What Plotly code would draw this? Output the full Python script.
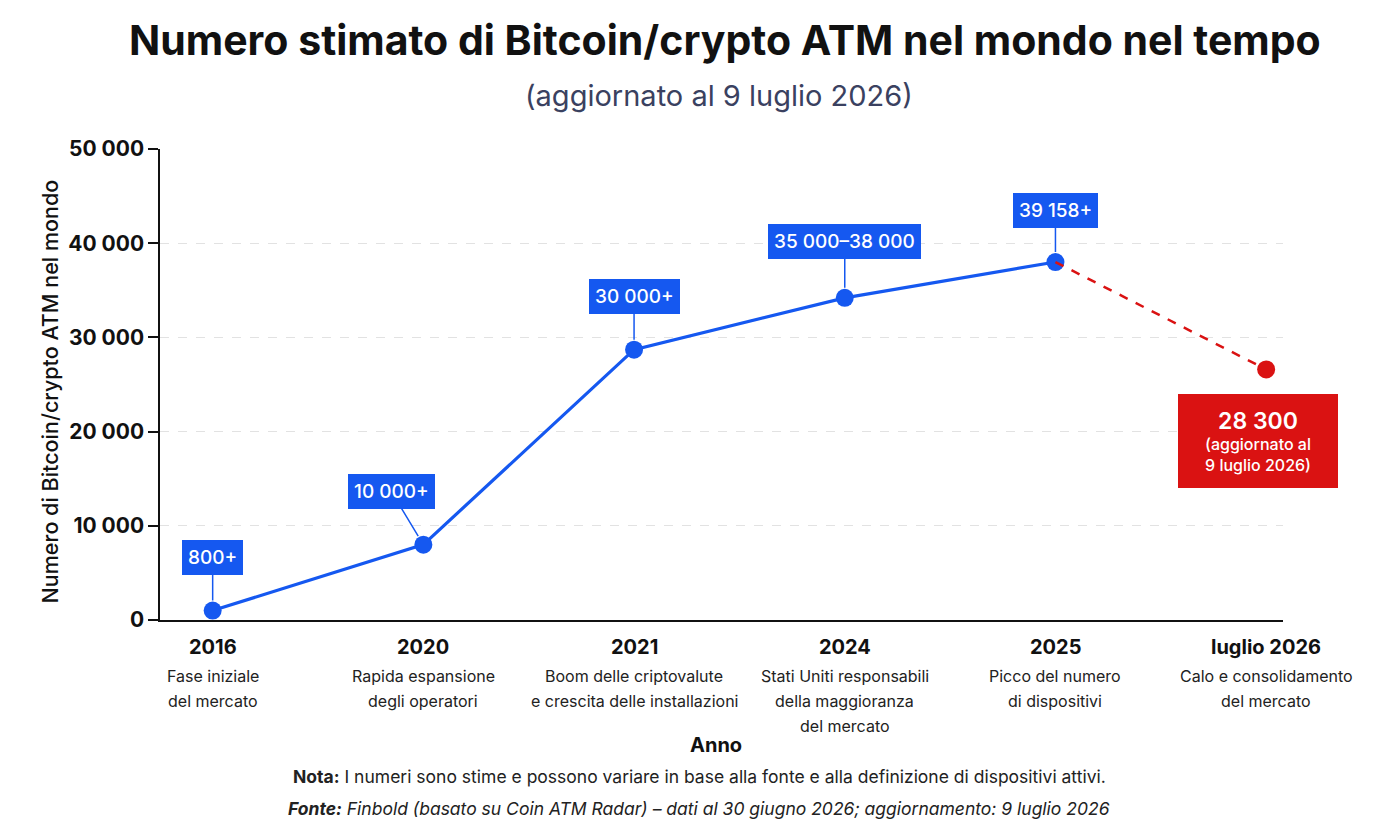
import plotly.graph_objects as go

# ---- data ----
categories = ["2016", "2020", "2021", "2024", "2025", "luglio 2026"]
descriptions = [
    "Fase iniziale<br>del mercato",
    "Rapida espansione<br>degli operatori",
    "Boom delle criptovalute<br>e crescita delle installazioni",
    "Stati Uniti responsabili<br>della maggioranza<br>del mercato",
    "Picco del numero<br>di dispositivi",
    "Calo e consolidamento<br>del mercato",
]
values_blue = [1000, 8000, 28700, 34200, 38000]
values_red = [38000, 26600]
labels_blue = ["800+", "10 000+", "30 000+", "35 000–38 000", "39 158+"]
label_red_main = "28 300"
label_red_sub = "(aggiornato al<br>9 luglio 2026)"
ytick_vals = [0, 10000, 20000, 30000, 40000, 50000]
ytick_text = ["0", "10 000", "20 000", "30 000", "40 000", "50 000"]

title = "Numero stimato di Bitcoin/crypto ATM nel mondo nel tempo"
subtitle = "(aggiornato al 9 luglio 2026)"
ytitle = "Numero di Bitcoin/crypto ATM nel mondo"
xtitle = "Anno"
nota = "<b>Nota:</b> I numeri sono stime e possono variare in base alla fonte e alla definizione di dispositivi attivi."
fonte = "<i><b>Fonte:</b> Finbold (basato su Coin ATM Radar) – dati al 30 giugno 2026; aggiornamento: 9 luglio 2026</i>"

BLUE = "#1558F0"
RED = "#DA1212"
FONT = "Inter"

fig = go.Figure()
fig.add_trace(go.Scatter(
    x=categories[:5], y=values_blue, mode="lines+markers",
    line=dict(color=BLUE, width=3.2), marker=dict(size=18, color=BLUE),
    showlegend=False))
fig.add_trace(go.Scatter(
    x=categories[-2:], y=values_red, mode="lines",
    line=dict(color=RED, width=2.5, dash="dash"), hoverinfo="skip", showlegend=False))
fig.add_trace(go.Scatter(
    x=categories[-1:], y=values_red[-1:], mode="markers",
    marker=dict(size=18, color=RED), showlegend=False))

# blue value callouts (x given as category index)
offsets = [(0, -53), (-32, -53), (0, -53), (0, -56), (0, -52)]
for i, (v, lab, (ax, ay)) in enumerate(zip(values_blue, labels_blue, offsets)):
    fig.add_annotation(
        x=i, y=v, text=lab, showarrow=True, ax=ax, ay=ay,
        arrowhead=0, arrowwidth=1.5, arrowcolor=BLUE, standoff=10,
        bgcolor=BLUE, bordercolor=BLUE, borderpad=5,
        font=dict(family=FONT, size=19, color="white", weight=500))

# red callout
fig.add_annotation(
    x=len(categories) - 1, y=values_red[-1], showarrow=False,
    xshift=-8, yshift=-72,
    text=f"<span style='font-size:23px;font-weight:600'>{label_red_main}</span><br>{label_red_sub}",
    bgcolor=RED, bordercolor=RED, borderpad=6, width=146, height=80,
    font=dict(family=FONT, size=16, color="white", weight=500), align="center")

# category labels below the axis
for i, (c, d) in enumerate(zip(categories, descriptions)):
    fig.add_annotation(x=i, y=0, yref="paper", yanchor="middle", yshift=-27,
                       text=f"<b>{c}</b>", showarrow=False,
                       font=dict(family=FONT, size=20, color="#111"))
    for j, line in enumerate(d.split("<br>")):
        fig.add_annotation(x=i, y=0, yref="paper", yanchor="middle",
                           yshift=-56 - 25 * j, text=line, showarrow=False,
                           font=dict(family=FONT, size=16, color="#222"))

# titles / notes
fig.add_annotation(x=0.503, y=1, xref="paper", yref="paper", yanchor="middle",
                   yshift=109, text=f"<b>{title}</b>", showarrow=False,
                   font=dict(family=FONT, size=41, color="#111"))
fig.add_annotation(x=0.498, y=1, xref="paper", yref="paper", yanchor="middle",
                   yshift=54, text=subtitle, showarrow=False,
                   font=dict(family=FONT, size=29, color="#3A4160"))
fig.add_annotation(x=-0.111, y=0.486, xref="paper", yref="paper", textangle=-90,
                   text=ytitle, showarrow=False,
                   font=dict(family=FONT, size=21.5, color="#111", weight=500))
fig.add_annotation(x=0.495, y=0, xref="paper", yref="paper", yanchor="middle",
                   yshift=-125, text=f"<b>{xtitle}</b>", showarrow=False,
                   font=dict(family=FONT, size=20, color="#111"))
fig.add_annotation(x=0.48, y=0, xref="paper", yref="paper", yanchor="middle",
                   yshift=-156, text=nota, showarrow=False,
                   font=dict(family=FONT, size=17.5, color="#222"))
fig.add_annotation(x=0.48, y=0, xref="paper", yref="paper", yanchor="middle",
                   yshift=-188, text=fonte, showarrow=False,
                   font=dict(family=FONT, size=17.5, color="#222"))

fig.update_layout(
    width=1400, height=839,
    margin=dict(l=160, r=117, t=149, b=219),
    paper_bgcolor="white", plot_bgcolor="white",
    font=dict(family=FONT),
    xaxis=dict(type="category", categoryorder="array", categoryarray=categories,
               range=[-0.25, 5.08], showticklabels=False,
               showgrid=False, zeroline=False, showline=True,
               linecolor="#111", linewidth=2, ticks=""),
    yaxis=dict(range=[0, 50000], tickvals=ytick_vals, ticktext=ytick_text,
               tickfont=dict(family=FONT, size=21, color="#111", weight=700),
               ticks="outside", ticklen=10, tickwidth=1.5, tickcolor="#111",
               showline=True, linecolor="#111", linewidth=1.5,
               showgrid=True, gridcolor="#E2E2E2", griddash="dash", gridwidth=1,
               zeroline=False),
)

fig.write_html("out.html")
